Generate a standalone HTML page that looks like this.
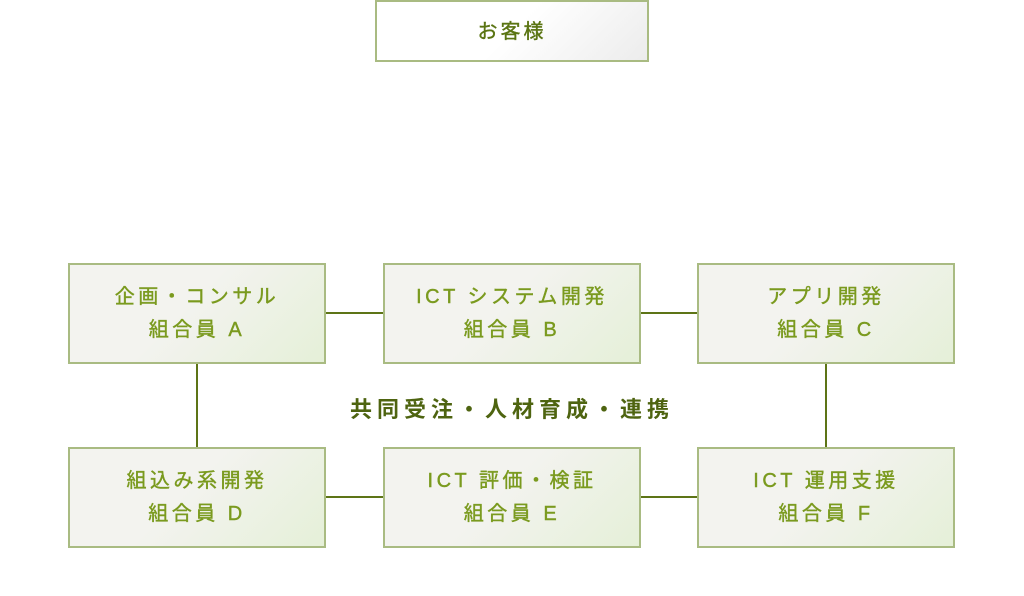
<!DOCTYPE html>
<html><head><meta charset="utf-8"><style>
body{margin:0;width:1024px;height:596px;background:#fff;position:relative;overflow:hidden;font-family:"Liberation Sans","Noto Sans CJK JP",sans-serif}
.b{position:absolute;box-sizing:border-box;border:2px solid #a9bb82;width:258px;height:101px;background:linear-gradient(135deg,#f3f3ef 45%,#e5f0d8);color:#7a9a1e;font-size:20px;letter-spacing:3.5px;text-align:center;display:flex;flex-direction:column;justify-content:center;line-height:33px;-webkit-text-stroke:0.4px #7a9a1e}
.l{position:absolute;background:#5d7416}
.top{position:absolute;left:375px;top:0;width:274px;height:62px;box-sizing:border-box;border:2px solid #a9bb82;background:linear-gradient(135deg,#fff 50%,#ececec);color:#5a7412;font-size:20px;letter-spacing:3px;text-align:center;line-height:60px;-webkit-text-stroke:0.4px #5a7412}
.c{position:absolute;left:330px;top:392px;width:364px;text-align:center;font-size:22px;font-weight:bold;color:#4e6410;letter-spacing:5px}
</style></head><body>
<div class="top">お客様</div>
<div class="l" style="left:325px;top:312px;width:58px;height:2px"></div>
<div class="l" style="left:640px;top:312px;width:57px;height:2px"></div>
<div class="l" style="left:325px;top:496px;width:58px;height:2px"></div>
<div class="l" style="left:640px;top:496px;width:57px;height:2px"></div>
<div class="l" style="left:196px;top:363px;width:2px;height:84px"></div>
<div class="l" style="left:825px;top:363px;width:2px;height:84px"></div>
<div class="b" style="left:68px;top:263px">企画・コンサル<br>組合員 A</div>
<div class="b" style="left:383px;top:263px">ICT システム開発<br>組合員 B</div>
<div class="b" style="left:697px;top:263px">アプリ開発<br>組合員 C</div>
<div class="b" style="left:68px;top:447px">組込み系開発<br>組合員 D</div>
<div class="b" style="left:383px;top:447px">ICT 評価・検証<br>組合員 E</div>
<div class="b" style="left:697px;top:447px">ICT 運用支援<br>組合員 F</div>
<div class="c">共同受注・人材育成・連携</div>
</body></html>
